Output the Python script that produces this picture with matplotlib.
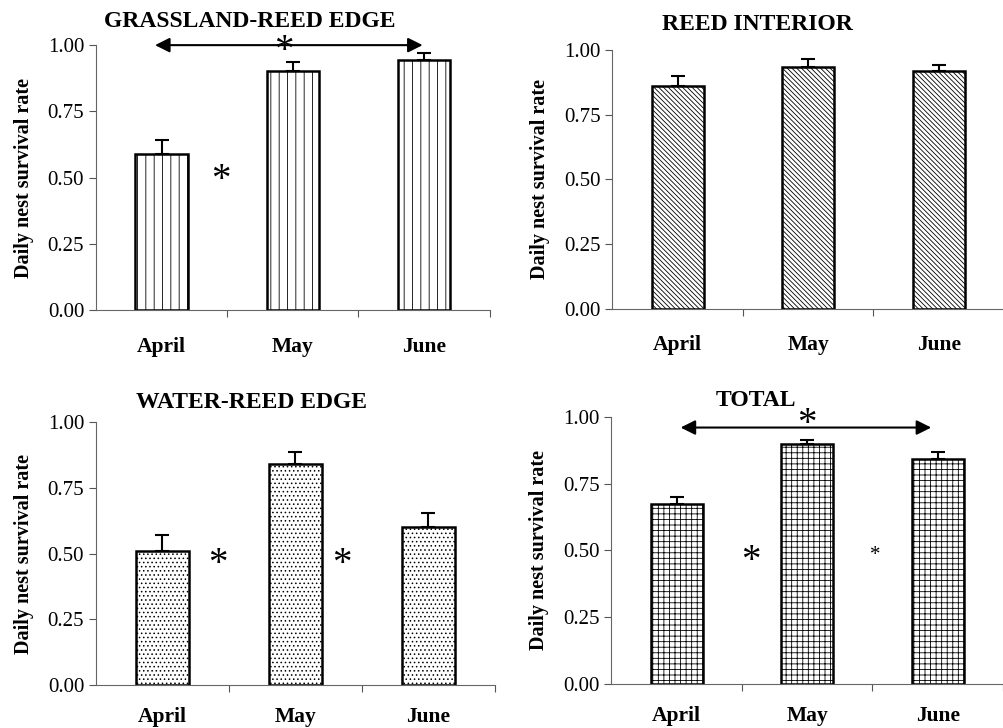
import matplotlib.pyplot as plt

plt.rcParams['font.family'] = ['Liberation Serif', 'DejaVu Serif']
plt.rcParams['hatch.linewidth'] = 0.6

months = ["April", "May", "June"]

# daily nest survival rate and SE (upper bar only)
grass_vals = [0.589, 0.903, 0.943]
grass_err = [0.053, 0.035, 0.026]
reed_vals = [0.861, 0.934, 0.918]
reed_err = [0.037, 0.030, 0.023]
water_vals = [0.511, 0.840, 0.603]
water_err = [0.060, 0.048, 0.051]
total_vals = [0.673, 0.897, 0.844]
total_err = [0.028, 0.016, 0.024]

fig = plt.figure(figsize=(10.04, 7.28), dpi=100)

panels = [
    ("GRASSLAND-REED EDGE", grass_vals, grass_err, '||', [0.0956, 0.574, 0.392, 0.364], 19),
    ("REED INTERIOR", reed_vals, reed_err, '\\' * 7, [0.610, 0.5755, 0.390, 0.356], 19),
    ("WATER-REED EDGE", water_vals, water_err, '....', [0.0956, 0.059, 0.397, 0.361], 16),
    ("TOTAL", total_vals, total_err, '+++', [0.609, 0.0604, 0.390, 0.367], 16),
]

axes = []
for title, vals, err, hatch, rect, xpad in panels:
    ax = fig.add_axes(rect)
    x = range(len(months))
    ax.bar(x, vals, width=0.4, color='white', edgecolor='black', linewidth=1.8, hatch=hatch, zorder=2)
    ax.errorbar(x, vals, yerr=[[0] * len(err), err], fmt='none', ecolor='black',
                elinewidth=1.5, capsize=5, capthick=1.5, zorder=3)
    ax.set_xlim(-0.5, 2.5)
    ax.set_ylim(0, 1.0)
    ax.set_yticks([0, 0.25, 0.5, 0.75, 1.0])
    ax.set_yticklabels(["0.00", "0.25", "0.50", "0.75", "1.00"], fontsize=15)
    ax.set_xticks([0.5, 1.5, 2.5])
    ax.set_xticklabels([])
    ax.set_xticks(list(x), minor=True)
    ax.set_xticklabels(months, minor=True, fontsize=15.5, fontweight='bold')
    ax.tick_params(axis='x', which='minor', length=0, pad=xpad)
    ax.tick_params(axis='x', which='major', length=5, direction='out', color='#555555')
    ax.tick_params(axis='y', length=5, direction='out', color='#555555')
    for s in ['top', 'right']:
        ax.spines[s].set_visible(False)
    for s in ['left', 'bottom']:
        ax.spines[s].set_color('#666666')
    ax.spines['left'].set_bounds(0, 1.0)
    ax.set_ylabel("Daily nest survival rate", fontsize=14.5, fontweight='bold', labelpad=10)
    axes.append(ax)

ax1, ax2, ax3, ax4 = axes
ax1.set_title("GRASSLAND-REED EDGE", fontsize=17, fontweight='bold', x=0.39, pad=13)
ax2.set_title("REED INTERIOR", fontsize=17, fontweight='bold', x=0.37, pad=14)
ax3.set_title("WATER-REED EDGE", fontsize=17, fontweight='bold', x=0.39, pad=10)
ax4.set_title("TOTAL", fontsize=17, fontweight='bold', x=0.37, pad=8)

arrow = dict(arrowstyle='<|-|>', color='black', lw=1.5, mutation_scale=22, shrinkA=0, shrinkB=0)
ax1.annotate("", xy=(-0.05, 1.0), xytext=(1.99, 1.0), arrowprops=arrow, annotation_clip=False)
ax4.annotate("", xy=(0.03, 0.96), xytext=(1.95, 0.96), arrowprops=arrow, annotation_clip=False)

star = dict(ha='center', va='center', fontsize=28, clip_on=False)
ax1.text(0.93, 0.975, "*", **star)
ax1.text(0.45, 0.49, "*", **star)
ax3.text(0.42, 0.46, "*", **star)
ax3.text(1.35, 0.46, "*", **star)
ax4.text(1.0, 0.97, "*", **star)
ax4.text(0.57, 0.46, "*", **star)
ax4.text(1.52, 0.48, "*", ha='center', va='center', fontsize=15)

fig.savefig("out.png", dpi=100)
